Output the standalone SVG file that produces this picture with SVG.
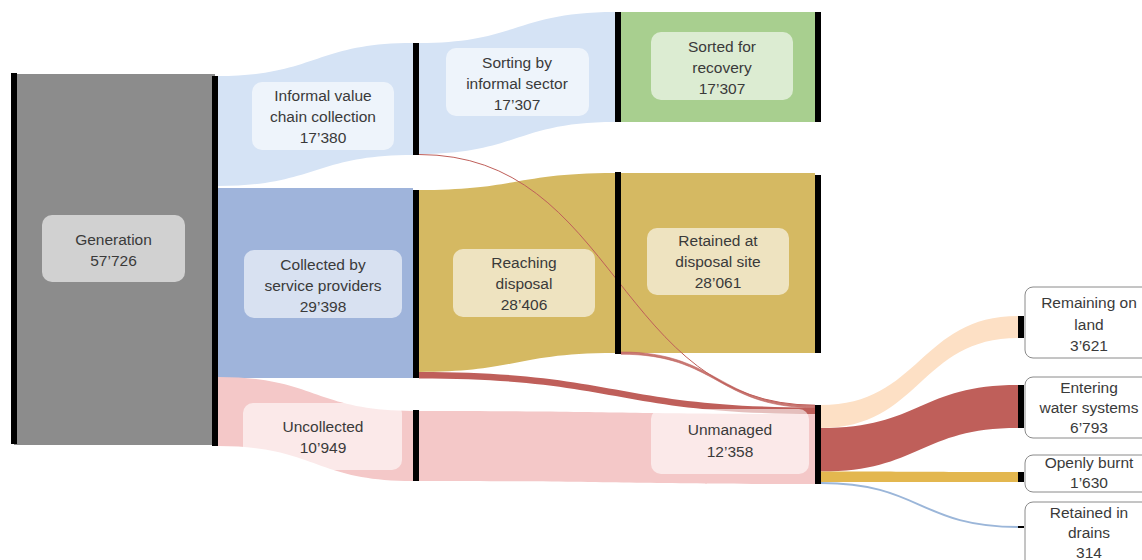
<svg xmlns="http://www.w3.org/2000/svg" width="1142" height="560" viewBox="0 0 1142 560">
<style>
text{font-family:"Liberation Sans",Arial,sans-serif;font-size:15.5px;fill:#3a3a3a;text-anchor:middle}
.bar{fill:#000}
.lbl{fill:#fff;fill-opacity:0.6}
.out{fill:#fff;stroke:#8a8a8a;stroke-width:1}
</style>
<rect width="1142" height="560" fill="#fff"/>
<g id="connectors">
<path d="M218 76 C315 76 315 43 413 43 L413 155 C315 155 315 186 218 186 Z" fill="#d5e3f5"/>
<rect x="218" y="188" width="195" height="190" fill="#9fb4db"/>
<path d="M218 377 C315 377 315 411 413 411 L413 481 C315 481 315 446 218 446 Z" fill="#f4c8c8"/>
<path d="M419 43 C517 43 517 12 615 12 L615 122 C517 122 517 154 419 154 Z" fill="#d5e3f5"/>
<path d="M419 190 C517 190 517 173 615 173 L615 353 C517 353 517 372 419 372 Z" fill="#d5b962"/>
<rect x="621" y="12" width="194" height="110" fill="#a8cf8f"/>
<rect x="621" y="173" width="194" height="180" fill="#d5b962"/>
<path d="M419 411 C617 411 617 414 815 414 L815 484 C617 484 617 481 419 481 Z" fill="#f4c8c8"/>
<path d="M419 372 C617 372 617 407.5 815 407.5 L815 414 C617 414 617 378.5 419 378.5 Z" fill="#bf5f5a"/>
<path d="M621 352 C718 352 718 405.5 815 405.5 L815 407.7 C718 407.7 718 354.2 621 354.2 Z" fill="#c97a75" stroke="#bf5f5a" stroke-width="0.6"/>
<path d="M419 154.5 C617 154.5 617 405.2 815 405.2" fill="none" stroke="#bf5f5a" stroke-width="1"/>
<path d="M821 405 C920 405 920 316 1018 316 L1018 338 C920 338 920 428 821 428 Z" fill="#fde0c5"/>
<path d="M821 428 C920 428 920 385 1018 385 L1018 428 C920 428 920 471.5 821 471.5 Z" fill="#bf5f5a"/>
<path d="M821 471.5 C920 471.5 920 472 1018 472 L1018 482 C920 482 920 482 821 482 Z" fill="#e3b74f"/>
<path d="M821 483 C920 483 920 527 1018 527" fill="none" stroke="#9bb6d9" stroke-width="2"/>
</g>
<g id="generation">
<rect x="14" y="74" width="201" height="371" fill="#8c8c8c"/>
<rect class="bar" x="11" y="73" width="6" height="371"/>
<rect class="bar" x="212" y="76" width="6" height="370"/>
<rect class="lbl" x="42" y="215" width="143" height="67" rx="10"/>
<text x="113.5" y="245">Generation</text>
<text x="113.5" y="266">57’726</text>
</g>
<g id="informal-collection">
<rect class="bar" x="413" y="43" width="6" height="112"/>
<rect class="lbl" x="252" y="82" width="142" height="68" rx="10"/>
<text x="323" y="101">Informal value</text>
<text x="323" y="122">chain collection</text>
<text x="323" y="143">17’380</text>
</g>
<g id="collected">
<rect class="bar" x="413" y="190" width="6" height="188"/>
<rect class="lbl" x="244" y="250" width="158" height="68" rx="10"/>
<text x="323" y="270">Collected by</text>
<text x="323" y="291">service providers</text>
<text x="323" y="312">29’398</text>
</g>
<g id="uncollected">
<rect class="bar" x="413" y="410" width="6" height="71"/>
<rect class="lbl" x="243" y="403" width="159" height="67" rx="10"/>
<text x="323" y="432">Uncollected</text>
<text x="323" y="453">10’949</text>
</g>
<g id="sorting">
<rect class="bar" x="615" y="12" width="6" height="110"/>
<rect class="lbl" x="446" y="48" width="143" height="68" rx="10"/>
<text x="517" y="68">Sorting by</text>
<text x="517" y="89">informal sector</text>
<text x="517" y="110">17’307</text>
</g>
<g id="reaching-disposal">
<rect class="bar" x="615" y="172" width="6" height="182"/>
<rect class="lbl" x="453" y="249" width="142" height="68" rx="10"/>
<text x="524" y="268">Reaching</text>
<text x="524" y="289">disposal</text>
<text x="524" y="310">28’406</text>
</g>
<g id="sorted-recovery">
<rect class="bar" x="815" y="12" width="6" height="110"/>
<rect class="lbl" x="651" y="32" width="142" height="68" rx="10"/>
<text x="722" y="52">Sorted for</text>
<text x="722" y="73">recovery</text>
<text x="722" y="94">17’307</text>
</g>
<g id="retained-disposal">
<rect class="bar" x="815" y="175" width="6" height="178"/>
<rect class="lbl" x="647" y="228" width="142" height="67" rx="10"/>
<text x="718" y="246">Retained at</text>
<text x="718" y="267">disposal site</text>
<text x="718" y="288">28’061</text>
</g>
<g id="unmanaged">
<rect class="bar" x="815" y="405" width="6" height="79"/>
<rect class="lbl" x="651" y="409" width="158" height="65" rx="10"/>
<text x="730" y="435">Unmanaged</text>
<text x="730" y="457">12’358</text>
</g>
<g id="remaining-land">
<rect class="out" x="1025" y="287" width="140" height="71" rx="8"/>
<rect class="bar" x="1018" y="316" width="6" height="22"/>
<text x="1089" y="308">Remaining on</text>
<text x="1089" y="330">land</text>
<text x="1089" y="351">3’621</text>
</g>
<g id="water-systems">
<rect class="out" x="1025" y="377" width="140" height="61" rx="8"/>
<rect class="bar" x="1018" y="385" width="6" height="43"/>
<text x="1089" y="393">Entering</text>
<text x="1089" y="413">water systems</text>
<text x="1089" y="433">6’793</text>
</g>
<g id="openly-burnt">
<rect class="out" x="1025" y="455" width="140" height="37" rx="8"/>
<rect class="bar" x="1018" y="472" width="6" height="10"/>
<text x="1089" y="468">Openly burnt</text>
<text x="1089" y="488">1’630</text>
</g>
<g id="retained-drains">
<rect class="out" x="1025" y="502" width="140" height="70" rx="8"/>
<rect class="bar" x="1018" y="526" width="6" height="2"/>
<text x="1089" y="518">Retained in</text>
<text x="1089" y="538">drains</text>
<text x="1089" y="558">314</text>
</g>
</svg>
